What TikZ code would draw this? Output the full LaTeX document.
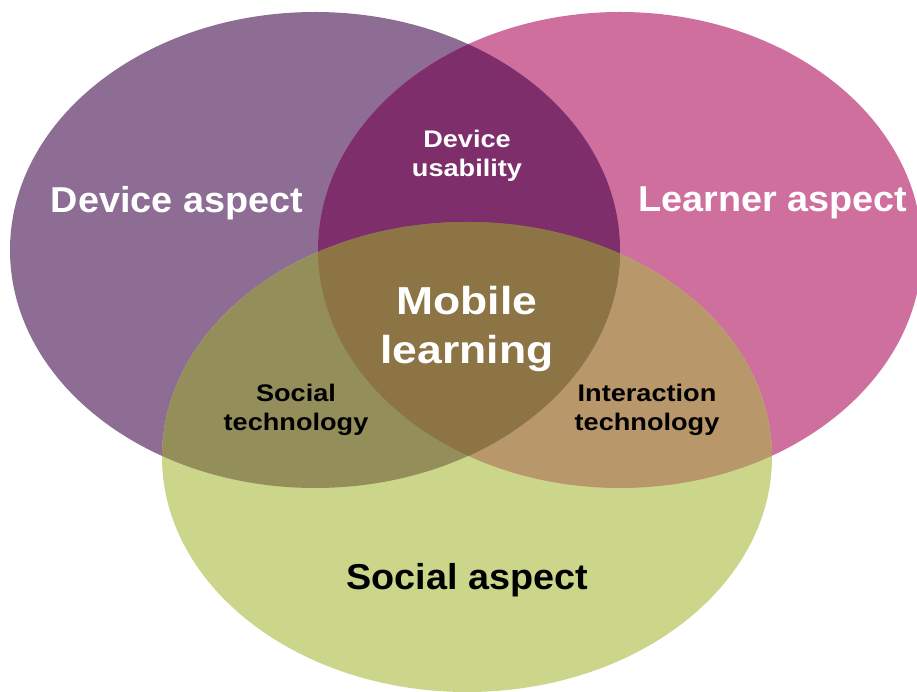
\documentclass[tikz,border=0pt]{standalone}
\usepackage{fontspec}
\setmainfont{Liberation Sans}
\definecolor{DevPurple}{HTML}{8E6D95}
\definecolor{LrnPink}{HTML}{CF6F9D}
\definecolor{SocGreen}{HTML}{CBD68B}
\definecolor{DevLrn}{HTML}{7D2E6B}
\definecolor{DevSoc}{HTML}{938E5A}
\definecolor{LrnSoc}{HTML}{B8976A}
\definecolor{AllThree}{HTML}{8D7445}
\usetikzlibrary{positioning}

\begin{document}
\begin{tikzpicture}[x=1pt, y=1pt,
    big/.style={font=\fontsize{36}{40}\selectfont\bfseries, align=center, inner sep=0pt,
      transform shape, xscale=1.05},
    mid/.style={font=\fontsize{24}{28.5}\selectfont\bfseries, align=center, inner sep=0pt,
      transform shape, xscale=1.13},
    core/.style={font=\fontsize{39}{49}\selectfont\bfseries, align=center, inner sep=0pt,
      text=white, transform shape, xscale=1.14}]
    \useasboundingbox (0,0) rectangle (917,691);
    % the three aspects
    \fill[DevPurple] (315,441) ellipse [x radius=305, y radius=238];
    \fill[LrnPink] (620,441) ellipse [x radius=302, y radius=238];
    \fill[SocGreen] (467,234) ellipse [x radius=305, y radius=235];
    % overlaps
    \begin{scope}
      \clip (620,441) ellipse [x radius=302, y radius=238];
      \fill[LrnSoc] (467,234) ellipse [x radius=305, y radius=235];
    \end{scope}
    \begin{scope}
      \clip (315,441) ellipse [x radius=305, y radius=238];
      \fill[DevLrn] (620,441) ellipse [x radius=302, y radius=238];
      \fill[DevSoc] (467,234) ellipse [x radius=305, y radius=235];
      \clip (620,441) ellipse [x radius=302, y radius=238];
      \fill[AllThree] (467,234) ellipse [x radius=305, y radius=235];
    \end{scope}
    % labels
    \node[big, text=white] (dev) at (177,488) {Device aspect};
    \node[big, text=white] (lrn) at (773,488) {Learner aspect};
    \node[big, text=black] (soc) at (467,111) {Social aspect};
    \node[mid, text=white] (usab) at (467,535) {Device\\usability};
    \node[core] (mob) at (467,362) {Mobile\\learning};
    \node[mid, text=black] (soctech) at (296,281) {Social\\technology};
    \node[mid, text=black] (inttech) at (647,281) {Interaction\\technology};
\end{tikzpicture}
\end{document}
